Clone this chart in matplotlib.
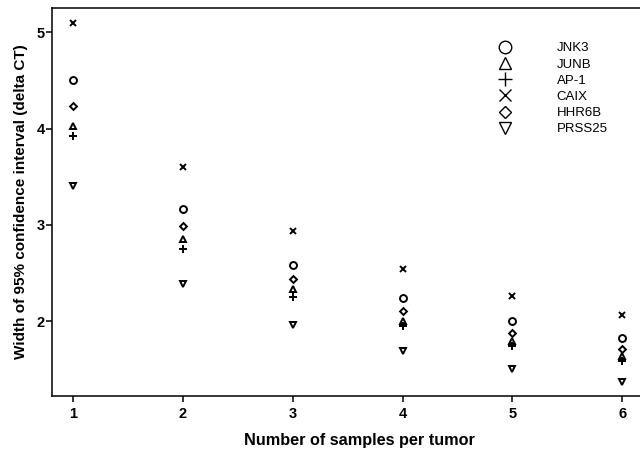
import matplotlib

matplotlib.use("Agg")
import matplotlib.pyplot as plt
from matplotlib.lines import Line2D

plt.rcParams["font.family"] = ["Liberation Sans", "DejaVu Sans"]

samples = [1, 2, 3, 4, 5, 6]
genes = ["JNK3", "JUNB", "AP-1", "CAIX", "HHR6B", "PRSS25"]
markers = ["o", "^", "+", "x", "D", "v"]

jnk3 = [4.50, 3.17, 2.58, 2.24, 2.00, 1.83]
junb = [4.03, 2.85, 2.33, 2.00, 1.79, 1.64]
ap1 = [3.92, 2.75, 2.25, 1.95, 1.74, 1.59]
caix = [5.10, 3.60, 2.94, 2.54, 2.26, 2.06]
hhr6b = [4.23, 2.99, 2.44, 2.11, 1.88, 1.71]
prss25 = [3.40, 2.39, 1.96, 1.69, 1.50, 1.37]
values = [jnk3, junb, ap1, caix, hhr6b, prss25]

fig = plt.figure(figsize=(6.4, 4.5), dpi=100)
ax = fig.add_axes([0.0817, 0.1207, 0.959, 0.861])

sizes = {"o": 5, "^": 5, "+": 5.5, "x": 5, "D": 3.5, "v": 5}
for name, m, vals in zip(genes, markers, values):
    ax.plot(samples, vals, linestyle="none", marker=m, markersize=sizes[m],
            markerfacecolor="none", markeredgecolor="black", markeredgewidth=1.4,
            color="black")

ax.set_xlim(0.81, 6.40)
ax.set_ylim(1.226, 5.25)
ax.set_xticks(samples)
ax.set_yticks([2, 3, 4, 5])
ax.spines["right"].set_visible(False)
for s in ["left", "bottom", "top"]:
    ax.spines[s].set_linewidth(1.1)
ax.tick_params(axis="both", direction="out", length=4, width=1.1, labelsize=10.5)
ax.tick_params(axis="x", pad=4)
ax.tick_params(axis="y", pad=1.5)
for lbl in ax.get_xticklabels() + ax.get_yticklabels():
    lbl.set_fontweight("bold")

ax.set_xlabel("Number of samples per tumor", fontsize=11.7, fontweight="bold", labelpad=9)
ax.set_ylabel("Width of 95% confidence interval (delta CT)", fontsize=11,
              fontweight="bold", labelpad=6)

leg_sizes = {"o": 9, "^": 9, "+": 10, "x": 8.5, "D": 6.5, "v": 9}
handles = [Line2D([], [], linestyle="none", marker=m, markersize=leg_sizes[m],
                  markerfacecolor="none", markeredgecolor="black", markeredgewidth=1.0)
           for m in markers]
ax.legend(handles, genes, loc="upper left", bbox_to_anchor=(0.771, 0.918),
          bbox_transform=fig.transFigure, frameon=False, fontsize=9.5,
          handlelength=1.0, handletextpad=3.4, labelspacing=0.3, borderaxespad=0)

fig.savefig("out.png", dpi=100)
plt.close(fig)
